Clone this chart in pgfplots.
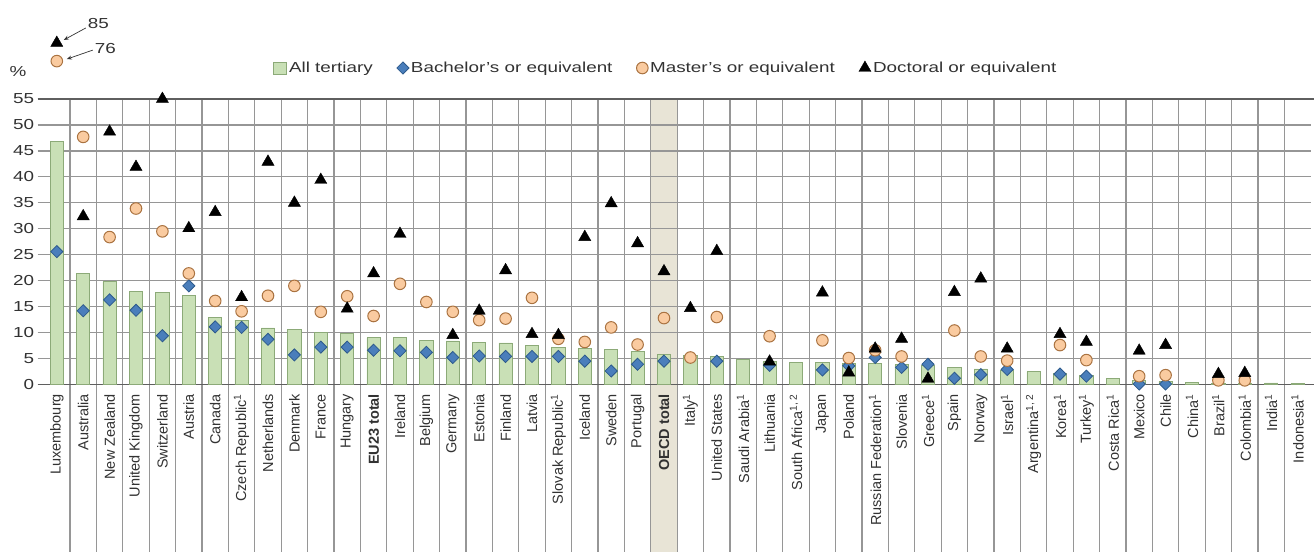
\documentclass[border=0pt]{standalone}
\usepackage{pgfplots}
\usepackage{pgfplotstable}
\pgfplotsset{compat=1.18}
\usepackage{fontspec}
\setmainfont{Liberation Sans}[FakeStretch=1.3]
\newfontfamily\rotfont{Liberation Sans}
\usetikzlibrary{arrows.meta}

\definecolor{barfill}{RGB}{201,224,182}
\definecolor{baredge}{RGB}{140,170,120}
\definecolor{bachfill}{RGB}{74,126,187}
\definecolor{bachedge}{RGB}{45,90,140}
\definecolor{mastfill}{RGB}{250,203,160}
\definecolor{mastedge}{RGB}{170,115,65}
\definecolor{gridc}{RGB}{150,150,150}
\definecolor{axisc}{RGB}{95,95,95}
\definecolor{oecd}{RGB}{232,228,214}
\definecolor{txt}{RGB}{50,50,50}

\pgfplotstableread{
x t b m d
0 46.8 25.6 76 85
1 21.4 14.2 47.7 32.4
2 19.8 16.3 28.4 48.7
3 17.9 14.3 33.9 41.9
4 17.7 9.4 29.5 55
5 17.1 19.0 21.4 30.1
6 13.0 11.1 16.1 33.2
7 12.4 11.0 14.1 16.8
8 10.9 8.7 17.1 42.9
9 10.6 5.7 19.0 35.0
10 10.1 7.2 14.0 39.4
11 9.8 7.2 17.0 14.6
12 9.0 6.6 13.2 21.4
13 9.0 6.5 19.4 29.0
14 8.5 6.2 15.9 nan
15 8.4 5.2 14.0 9.5
16 8.1 5.5 12.4 14.2
17 8.0 5.4 12.7 22.0
18 7.5 5.4 16.7 9.7
19 7.2 5.4 8.8 9.5
20 7.0 4.5 8.2 28.4
21 6.8 2.6 11.0 34.9
22 6.4 3.9 7.7 27.2
23 5.8 4.5 12.8 21.8
24 5.6 nan 5.2 14.7
25 5.4 4.5 13.0 25.7
26 4.8 nan nan nan
27 4.4 3.7 9.3 4.4
28 4.3 nan nan nan
29 4.2 2.8 8.5 17.7
30 4.1 3.6 5.1 2.3
31 4.0 5.2 6.6 6.9
32 3.8 3.3 5.4 8.8
33 3.6 3.9 nan 1.1
34 3.2 1.2 10.4 17.8
35 3.0 1.9 5.4 20.4
36 2.8 2.9 4.6 6.9
37 2.5 nan nan nan
38 2.2 2.0 7.6 9.7
39 1.8 1.6 4.7 8.2
40 1.1 nan nan nan
41 0.7 0.1 1.6 6.5
42 0.6 0.1 1.8 7.6
43 0.35 nan nan nan
44 0.3 nan 0.8 2.0
45 0.3 nan 0.8 2.2
46 0.3 nan nan nan
47 0.25 nan nan nan
}\data

\begin{document}
\begin{tikzpicture}
\begin{axis}[name=ax, set layers,
  scale only axis, width=1267.2pt, height=285.5pt,
  xmin=-0.5, xmax=47.5, ymin=0, ymax=55,
  clip=false,
  axis line style={draw=none},
  xtick={0,...,47},
  xticklabels={Luxembourg, Australia, New Zealand, United Kingdom, Switzerland, Austria, Canada, Czech Republic\textsuperscript{1}, Netherlands, Denmark, France, Hungary, \textbf{EU23 total}, Ireland, Belgium, Germany, Estonia, Finland, Latvia, Slovak Republic\textsuperscript{1}, Iceland, Sweden, Portugal, \textbf{OECD total}, Italy\textsuperscript{1}, United States, Saudi Arabia\textsuperscript{1}, Lithuania, {South Africa\textsuperscript{1, 2}}, Japan, Poland, Russian Federation\textsuperscript{1}, Slovenia, Greece\textsuperscript{1}, Spain, Norway, Israel\textsuperscript{1}, {Argentina\textsuperscript{1, 2}}, Korea\textsuperscript{1}, Turkey\textsuperscript{1}, Costa Rica\textsuperscript{1}, Mexico, Chile, China\textsuperscript{1}, Brazil\textsuperscript{1}, Colombia\textsuperscript{1}, India\textsuperscript{1}, Indonesia\textsuperscript{1}},
  xtick style={draw=none},
  ytick={0,5,...,55},
  ytick style={draw=gridc, line width=1.2pt},
  tick align=outside, major tick length=6pt, tick pos=left,
  ymajorgrids, major grid style={gridc, line width=1.2pt},
  /pgf/number format/assume math mode=true,
  yticklabel style={font=\fontsize{14.5}{16}\selectfont, text=txt},
  xticklabel style={font=\rotfont\fontsize{14.5}{16}\selectfont, text=txt, rotate=90, anchor=east},
  legend style={at={(0.1787,1.1086)}, anchor=west, draw=none, fill=none,
    legend columns=-1, font=\fontsize{14.5}{16}\selectfont, text=txt,
    /tikz/every even column/.append style={column sep=22pt}},
  legend cell align=left,
]
\begin{pgfonlayer}{axis background}
\fill[oecd] (axis cs:22.5,-32.2) rectangle (axis cs:23.5,55);
\end{pgfonlayer}
\pgfplotsinvokeforeach{1,...,47}{\draw[gridc, line width=1.2pt] (axis cs:#1-0.5,55) -- (axis cs:#1-0.5,-32.2);}
\draw[axisc, line width=1.8pt] ([xshift=-6pt]axis cs:-0.5,0) -- ([xshift=3pt]axis cs:47.5,0);
\draw[axisc, line width=1.8pt] ([xshift=-6pt]axis cs:-0.5,55) -- ([xshift=3pt]axis cs:47.5,55);

\addplot[ybar, bar width=0.5, fill=barfill, draw=baredge, line width=0.8pt,
  legend image code/.code={\draw[fill=barfill, draw=baredge, line width=0.8pt] (0pt,-6pt) rectangle (13pt,6pt);}]
  table[x=x,y=t]{\data};
\addplot[only marks, mark=square*, mark size=4.3pt,
  mark options={rotate=45, fill=bachfill, draw=bachedge, line width=0.8pt}]
  table[x=x,y=b]{\data};
\addplot[only marks, mark=*, mark size=5.8pt, restrict y to domain=0:60,
  mark options={fill=mastfill, draw=mastedge, line width=1pt}]
  table[x=x,y=m]{\data};
\addplot[only marks, mark=triangle*, mark size=7pt, restrict y to domain=0:60,
  mark options={fill=black, draw=black}]
  table[x=x,y=d]{\data};
\legend{All tertiary, Bachelor’s or equivalent, Master’s or equivalent, Doctoral or equivalent}

% off-scale Luxembourg values (85 and 76) shown above the plot area
\addplot[forget plot, only marks, mark=*, mark size=5.8pt,
  mark options={fill=mastfill, draw=mastedge, line width=1pt}] coordinates {(0,62.3)};
\addplot[forget plot, only marks, mark=triangle*, mark size=7pt,
  mark options={fill=black, draw=black}] coordinates {(0,65.8)};
\coordinate (T85) at (axis cs:0,65.8);
\coordinate (C76) at (axis cs:0,62.3);
\node[anchor=east, inner sep=0pt, text=txt, font=\fontsize{14.5}{16}\selectfont] at ([xshift=-17pt,yshift=27pt]rel axis cs:0,1) {\%};
\end{axis}
\draw[-{Stealth[length=5pt,width=4pt]}, line width=0.7pt, txt] ([xshift=29pt,yshift=15pt]T85) -- ([xshift=7pt,yshift=3pt]T85);
\node[anchor=west, inner sep=0pt, text=txt, font=\fontsize{14.5}{16}\selectfont] at ([xshift=31pt,yshift=19pt]T85) {85};
\draw[-{Stealth[length=5pt,width=4pt]}, line width=0.7pt, txt] ([xshift=36pt,yshift=11pt]C76) -- ([xshift=10pt,yshift=2pt]C76);
\node[anchor=west, inner sep=0pt, text=txt, font=\fontsize{14.5}{16}\selectfont] at ([xshift=38pt,yshift=13pt]C76) {76};
\pgfresetboundingbox
\path ([shift={(-43.6pt,-173.5pt)}]ax.south west) rectangle ++(1314pt,558pt);
\end{tikzpicture}
\end{document}
